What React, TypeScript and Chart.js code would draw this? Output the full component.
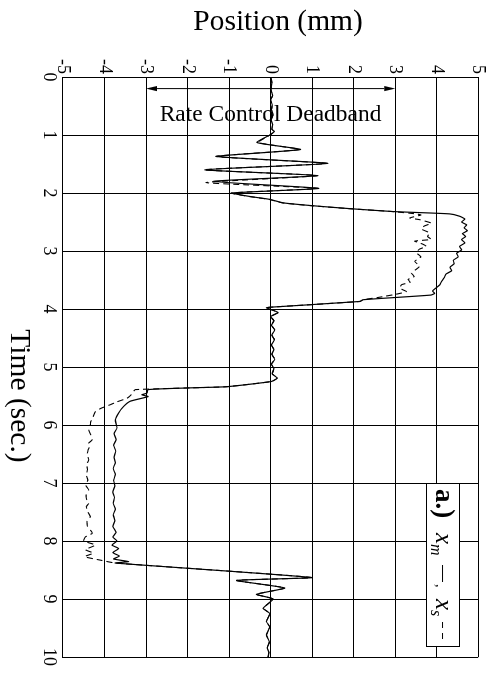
import React, { useEffect, useRef } from 'react';
import { Chart, registerables } from 'chart.js';

Chart.register(...registerables);

// Master (x_m) trace: time in seconds, position in mm
const masterTime = [
  0.0, 0.1, 0.22, 0.32, 0.39, 0.48, 0.56, 0.65, 0.73, 0.82, 0.9, 0.94, 0.97, 0.99,
  1.13, 1.25, 1.37, 1.49, 1.6, 1.7, 1.8, 1.92, 2.0, 2.06, 2.11, 2.17, 2.22, 2.27, 2.32, 2.36,
  2.4, 2.45, 2.5, 2.55, 2.6, 2.65, 2.7, 2.75, 2.8, 2.86, 2.92, 2.98, 3.04, 3.1, 3.16, 3.22,
  3.28, 3.34, 3.4, 3.46, 3.52, 3.58, 3.64, 3.69, 3.73, 3.76, 3.84, 3.87, 3.97, 3.98, 4.06, 4.13,
  4.2, 4.28, 4.36, 4.45, 4.53, 4.62, 4.7, 4.78, 4.87, 4.95, 5.03, 5.12, 5.19, 5.25, 5.34, 5.36,
  5.39, 5.45, 5.48, 5.51, 5.59, 5.68, 5.79, 5.91, 6.05, 6.15, 6.25, 6.35, 6.45, 6.55, 6.65, 6.75,
  6.85, 6.95, 7.05, 7.15, 7.25, 7.35, 7.45, 7.55, 7.65, 7.75, 7.85, 7.93, 8.0, 8.07, 8.13, 8.2,
  8.26, 8.31, 8.355, 8.38, 8.63, 8.68, 8.81, 8.92, 9.0, 9.16, 9.25, 9.39, 9.48, 9.62, 9.74, 9.84,
  9.92, 10.0,
];
const masterPos = [
  0.0, 0.03, 0.01, 0.05, 0.0, 0.04, 0.02, 0.06, 0.01, 0.05, 0.03, 0.09, 0.04, 0.01,
  -0.33, 0.72, -1.3, 1.38, -1.58, 1.14, -1.39, 1.16, -0.93, -0.5, -0.02, 0.3, 1.02, 1.91, 2.95, 4.31,
  4.55, 4.68, 4.6, 4.72, 4.66, 4.74, 4.62, 4.7, 4.6, 4.68, 4.55, 4.6, 4.48, 4.52, 4.4, 4.42,
  4.32, 4.36, 4.22, 4.18, 4.12, 4.08, 3.98, 3.9, 3.95, 3.86, 2.23, 2.15, -0.02, -0.1, 0.18, 0.0,
  0.08, 0.02, 0.1, 0.03, 0.09, 0.02, 0.08, 0.03, 0.1, 0.02, 0.08, 0.04, 0.16, 0.02, -1.06, -1.94,
  -2.95, -2.98, -3.1, -2.95, -3.38, -3.54, -3.66, -3.74, -3.7, -3.77, -3.72, -3.78, -3.73, -3.77, -3.74, -3.79,
  -3.74, -3.78, -3.75, -3.8, -3.76, -3.79, -3.74, -3.79, -3.75, -3.8, -3.72, -3.8, -3.7, -3.82, -3.66, -3.8,
  -3.64, -3.78, -3.42, -3.74, 0.99, -0.82, 0.34, -0.34, 0.06, -0.18, -0.02, -0.1, -0.02, -0.1, -0.03, -0.08,
  -0.04, -0.06,
];

// Slave (x_s) trace: time in seconds, position in mm
const slaveTime = [
  0.0, 0.1, 0.22, 0.32, 0.39, 0.48, 0.56, 0.65, 0.73, 0.82, 0.9, 0.94, 0.97, 0.99,
  1.13, 1.25, 1.37, 1.49, 1.6, 1.7, 1.82, 1.92, 2.0, 2.06, 2.11, 2.17, 2.22, 2.27, 2.32, 2.36,
  2.38, 2.43, 2.46, 2.52, 2.57, 2.62, 2.69, 2.75, 2.8, 2.83, 2.88, 2.92, 2.97, 3.03, 3.1, 3.18,
  3.26, 3.32, 3.38, 3.44, 3.49, 3.54, 3.58, 3.64, 3.7, 3.74, 3.8, 3.84, 3.87, 3.97, 3.98, 4.06, 4.13,
  4.2, 4.28, 4.36, 4.45, 4.53, 4.62, 4.7, 4.78, 4.87, 4.95, 5.03, 5.12, 5.19, 5.25, 5.34, 5.36,
  5.39, 5.42, 5.48, 5.54, 5.6, 5.65, 5.71, 5.77, 5.83, 5.88, 5.94, 6.0, 6.08, 6.17, 6.26, 6.31,
  6.37, 6.44, 6.51, 6.6, 6.68, 6.77, 6.86, 6.95, 7.04, 7.12, 7.2, 7.29, 7.35, 7.41, 7.5, 7.58,
  7.66, 7.75, 7.82, 7.87, 7.93, 8.0, 8.07, 8.15, 8.21, 8.27, 8.33, 8.38,
  8.63, 8.68, 8.81, 8.92, 9.0, 9.16, 9.25, 9.39, 9.48, 9.62, 9.74, 9.84, 9.92, 10.0,
];
const slavePos = [
  0.0, 0.03, 0.01, 0.05, 0.0, 0.04, 0.02, 0.06, 0.01, 0.05, 0.03, 0.09, 0.04, 0.01,
  -0.3, 0.7, -1.32, 1.35, -1.6, 1.12, -1.56, 1.14, -0.95, -0.52, -0.04, 0.28, 1.0, 1.89, 2.93, 3.5,
  3.62, 3.35, 3.59, 3.87, 3.7, 3.63, 3.83, 3.78, 3.87, 3.47, 3.66, 3.75, 3.58, 3.51, 3.62, 3.47,
  3.59, 3.5, 3.39, 3.46, 3.31, 3.36, 3.16, 3.11, 3.27, 3.06, 2.6, 2.23, 2.15, -0.02, -0.1, 0.18, 0.0,
  0.08, 0.02, 0.1, 0.03, 0.09, 0.02, 0.08, 0.03, 0.1, 0.02, 0.08, 0.04, 0.16, 0.02, -1.06, -1.94,
  -3.26, -3.3, -3.36, -3.46, -3.7, -3.86, -4.08, -4.22, -4.26, -4.28, -4.33, -4.34, -4.38, -4.33, -4.3, -4.38,
  -4.36, -4.4, -4.42, -4.38, -4.43, -4.41, -4.44, -4.4, -4.45, -4.38, -4.44, -4.43, -4.38, -4.44, -4.4, -4.34,
  -4.42, -4.41, -4.33, -4.3, -4.46, -4.5, -4.22, -4.46, -4.27, -4.48, -4.1, -3.74,
  0.99, -0.82, 0.34, -0.34, 0.06, -0.18, -0.02, -0.1, -0.02, -0.1, -0.03, -0.08, -0.04, -0.06,
];

// Deadband of the rate controller (mm) and where its marker sits in time
const deadbandLimits = [-3, 3];
const deadbandMarkerTime = 0.2;
const deadbandLabelTime = 0.655;
const deadbandLabel = 'Rate Control Deadband';

const timeLabel = 'Time (sec.)';
const positionLabel = 'Position (mm)';

const SERIF = "'Liberation Serif', 'Times New Roman', serif";

const toPoints = (ts: number[], ps: number[]) => ts.map((t, i) => ({ x: t, y: ps[i] }));

// Axis titles, deadband arrow with caption, and the boxed key
const annotations = {
  id: 'annotations',
  afterDatasetsDraw(chart: any) {
    const { ctx, scales } = chart;
    const xs = scales.x;
    const ys = scales.y;
    ctx.save();

    // double-headed deadband arrow
    const ax = xs.getPixelForValue(deadbandMarkerTime);
    const yLo = ys.getPixelForValue(deadbandLimits[0]);
    const yHi = ys.getPixelForValue(deadbandLimits[1]);
    const head = 11;
    const half = 2.6;
    ctx.strokeStyle = '#000';
    ctx.fillStyle = '#000';
    ctx.lineWidth = 1;
    ctx.beginPath();
    ctx.moveTo(ax, yLo - head);
    ctx.lineTo(ax, yHi + head);
    ctx.stroke();
    ctx.beginPath();
    ctx.moveTo(ax, yLo);
    ctx.lineTo(ax - half, yLo - head);
    ctx.lineTo(ax + half, yLo - head);
    ctx.closePath();
    ctx.fill();
    ctx.beginPath();
    ctx.moveTo(ax, yHi);
    ctx.lineTo(ax - half, yHi + head);
    ctx.lineTo(ax + half, yHi + head);
    ctx.closePath();
    ctx.fill();

    // caption
    const lx = xs.getPixelForValue(deadbandLabelTime);
    const ly = ys.getPixelForValue(0);
    ctx.save();
    ctx.translate(lx, ly);
    ctx.rotate(-Math.PI / 2);
    ctx.font = `23.5px ${SERIF}`;
    ctx.textAlign = 'center';
    ctx.textBaseline = 'middle';
    ctx.fillText(deadbandLabel, 0, 0);
    ctx.restore();

    // axis titles
    ctx.save();
    ctx.translate(22.5, ys.getPixelForValue(0.18));
    ctx.rotate(-Math.PI / 2);
    ctx.font = `29.5px ${SERIF}`;
    ctx.textAlign = 'center';
    ctx.textBaseline = 'middle';
    ctx.fillText(positionLabel, 0, 0);
    ctx.restore();

    ctx.save();
    ctx.font = `29.5px ${SERIF}`;
    ctx.textAlign = 'center';
    ctx.textBaseline = 'middle';
    ctx.fillText(timeLabel, xs.getPixelForValue(5.5), chart.height - 18.5);
    ctx.restore();
    ctx.restore();

    // key box
    ctx.save();
    const bx0 = xs.getPixelForValue(7.0);
    const bx1 = xs.getPixelForValue(9.81);
    const by0 = ys.getPixelForValue(4.55);
    const by1 = ys.getPixelForValue(3.76);
    ctx.fillStyle = '#fff';
    ctx.fillRect(bx0, by0, bx1 - bx0, by1 - by0);
    ctx.strokeStyle = '#000';
    ctx.lineWidth = 1;
    ctx.strokeRect(Math.round(bx0) + 0.5, Math.round(by0) + 0.5, Math.round(bx1 - bx0), Math.round(by1 - by0));

    const base = by0 + 24;
    const mid = base - 7;
    ctx.fillStyle = '#000';
    ctx.textAlign = 'left';
    ctx.textBaseline = 'alphabetic';
    ctx.font = `bold 27px ${SERIF}`;
    ctx.fillText('a.)', bx0 + 6, base);
    ctx.font = `italic 25px ${SERIF}`;
    ctx.fillText('x', bx0 + 50, base);
    ctx.font = `italic 16px ${SERIF}`;
    ctx.fillText('m', bx0 + 61, base + 5);
    ctx.beginPath();
    ctx.moveTo(bx0 + 82, mid);
    ctx.lineTo(bx0 + 99, mid);
    ctx.stroke();
    ctx.font = `14px ${SERIF}`;
    ctx.fillText(',', bx0 + 101, base);
    ctx.font = `italic 25px ${SERIF}`;
    ctx.fillText('x', bx0 + 116, base);
    ctx.font = `italic 16px ${SERIF}`;
    ctx.fillText('s', bx0 + 127, base + 5);
    ctx.setLineDash([6, 5]);
    ctx.beginPath();
    ctx.moveTo(bx0 + 139, mid);
    ctx.lineTo(bx0 + 160, mid);
    ctx.stroke();
    ctx.restore();
  },
};

export default function App() {
  const canvasRef = useRef<HTMLCanvasElement>(null);

  useEffect(() => {
    if (!canvasRef.current) return;
    const chart = new Chart(canvasRef.current, {
      type: 'line',
      data: {
        datasets: [
          {
            label: 'x_m',
            data: toPoints(masterTime, masterPos),
            borderColor: '#000',
            borderWidth: 1.2,
            pointRadius: 0,
            tension: 0.15,
            fill: false,
          },
          {
            label: 'x_s',
            data: toPoints(slaveTime, slavePos),
            borderColor: '#000',
            borderWidth: 1.1,
            borderDash: [6, 4],
            pointRadius: 0,
            tension: 0.15,
            fill: false,
          },
        ],
      },
      options: {
        responsive: false,
        animation: false,
        devicePixelRatio: 1,
        events: [],
        layout: { padding: { left: 0, right: 32, top: 13, bottom: 0 } },
        plugins: {
          legend: { display: false },
          tooltip: { enabled: false },
        },
        scales: {
          x: {
            type: 'linear',
            min: 0,
            max: 10,
            ticks: {
              stepSize: 1,
              color: '#000',
              padding: 3,
              maxRotation: 0,
              minRotation: 0,
              font: { family: SERIF, size: 18 },
            },
            grid: { color: '#000', lineWidth: 1, drawTicks: false },
            border: { color: '#000', width: 1 },
            title: { display: false },
            afterFit: (scale: any) => {
              scale.height = 63;
            },
          },
          y: {
            type: 'linear',
            min: -5,
            max: 5,
            ticks: {
              stepSize: 1,
              color: '#000',
              padding: 3,
              font: { family: SERIF, size: 18 },
            },
            grid: { color: '#000', lineWidth: 1, drawTicks: false },
            border: { color: '#000', width: 1 },
            title: { display: false },
            afterFit: (scale: any) => {
              scale.width = 77;
            },
          },
        },
      },
      plugins: [annotations],
    } as any);
    return () => chart.destroy();
  }, []);

  return (
    <div
      style={{
        position: 'absolute',
        left: 0,
        top: 0,
        width: 492,
        height: 689,
        overflow: 'hidden',
        background: '#fff',
      }}
    >
      <canvas
        ref={canvasRef}
        width={689}
        height={492}
        style={{
          position: 'absolute',
          left: 0,
          top: 0,
          width: 689,
          height: 492,
          transformOrigin: '0 0',
          transform: 'translate(492px, 0px) rotate(90deg)',
        }}
      />
    </div>
  );
}
